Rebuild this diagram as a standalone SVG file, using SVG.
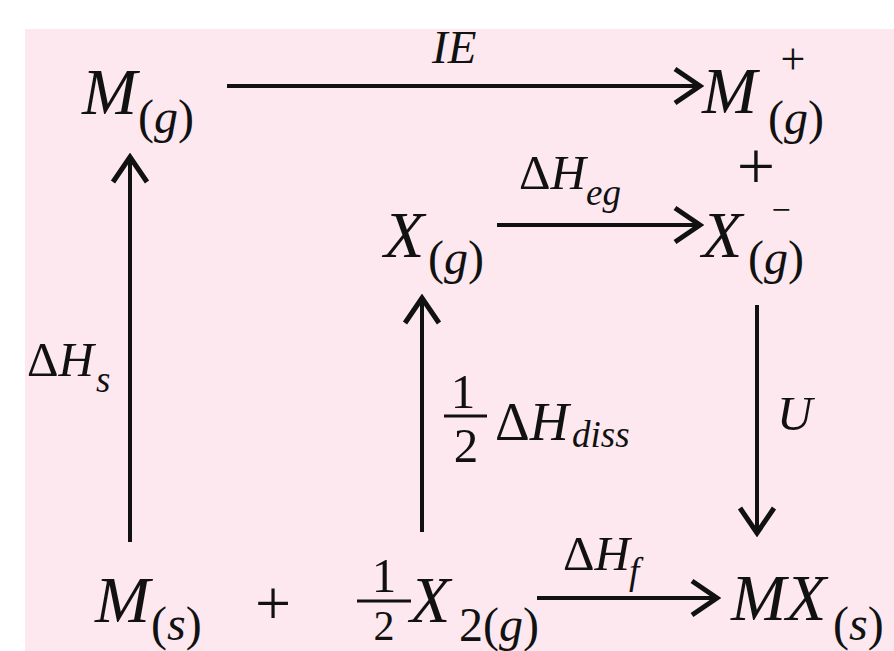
<svg xmlns="http://www.w3.org/2000/svg" width="894" height="651" viewBox="0 0 894 651">
<style>
text{font-family:"Liberation Serif","Times New Roman",serif;fill:#111}
.it{font-style:italic}
.up{font-style:normal}
.big{font-size:66px}
.sub{font-size:48px}
.lab{font-size:49px}
.ls{font-size:37px}
.ln{fill:none;stroke:#111;stroke-width:4}
.fr{stroke:#111;stroke-width:3}
</style>
<defs>
<marker id="ah" markerUnits="userSpaceOnUse" viewBox="-30 -20 34 40" refX="0" refY="0" markerWidth="34" markerHeight="40" orient="auto">
<path d="M-25,-17 L0,0 L-25,17" fill="none" stroke="#111" stroke-width="5" stroke-linejoin="miter"/>
</marker>
</defs>
<rect x="25" y="29" width="869" height="622" fill="#fce8ee"/>

<g id="connectors">
<line class="ln" x1="227" y1="86" x2="700" y2="86" marker-end="url(#ah)"/>
<line class="ln" x1="497" y1="225" x2="700" y2="225" marker-end="url(#ah)"/>
<line class="ln" x1="130" y1="542" x2="130" y2="157" marker-end="url(#ah)"/>
<line class="ln" x1="422" y1="532" x2="422" y2="298" marker-end="url(#ah)"/>
<line class="ln" x1="757" y1="305" x2="757" y2="533" marker-end="url(#ah)"/>
<line class="ln" x1="537" y1="598" x2="717" y2="598" marker-end="url(#ah)"/>
</g>

<g id="labels">
<text class="it" x="432" y="63" style="font-size:47px">IE</text>
<text class="lab" x="519" y="189"><tspan class="up">Δ</tspan><tspan class="it">H</tspan></text>
<text class="it ls" x="586" y="205">eg</text>
<text class="lab" x="27" y="376"><tspan class="up">Δ</tspan><tspan class="it">H</tspan></text>
<text class="it ls" x="96" y="392">s</text>
<text class="up lab" x="463" y="408" text-anchor="middle">1</text>
<line class="fr" x1="444" y1="416" x2="487" y2="416"/>
<text class="up lab" x="466" y="462" text-anchor="middle">2</text>
<text x="495" y="440" style="font-size:54px"><tspan class="up">Δ</tspan><tspan class="it">H</tspan></text>
<text class="it ls" x="572" y="447">diss</text>
<text class="it lab" x="777" y="430">U</text>
<text class="lab" x="563" y="570"><tspan class="up">Δ</tspan><tspan class="it">H</tspan></text>
<text class="it ls" x="629" y="584">f</text>
</g>

<g id="node-Mg">
<text class="it big" x="82" y="114">M</text>
<text class="sub" x="138" y="133"><tspan class="up">(</tspan><tspan class="it">g</tspan><tspan class="up">)</tspan></text>
</g>

<g id="node-Mplus">
<text class="it big" x="702" y="113">M</text>
<text class="up" x="793" y="74" text-anchor="middle" style="font-size:44px">+</text>
<text class="sub" x="768" y="134"><tspan class="up">(</tspan><tspan class="it">g</tspan><tspan class="up">)</tspan></text>
</g>

<g id="plus-mid">
<text class="up" x="756" y="189" text-anchor="middle" style="font-size:68px">+</text>
</g>

<g id="node-Xg">
<text class="it big" x="384" y="257">X</text>
<text class="sub" x="428" y="274"><tspan class="up">(</tspan><tspan class="it">g</tspan><tspan class="up">)</tspan></text>
</g>

<g id="node-Xminus">
<text class="it big" x="702" y="257">X</text>
<text class="up" x="781" y="221" text-anchor="middle" style="font-size:34px">−</text>
<text class="sub" x="748" y="274"><tspan class="up">(</tspan><tspan class="it">g</tspan><tspan class="up">)</tspan></text>
</g>

<g id="node-reactants">
<text class="it big" x="95" y="622">M</text>
<text class="sub" x="151" y="640"><tspan class="up">(</tspan><tspan class="it">s</tspan><tspan class="up">)</tspan></text>
<text class="up" x="273" y="625" text-anchor="middle" style="font-size:64px">+</text>
<text class="up lab" x="384" y="592" text-anchor="middle">1</text>
<line class="fr" x1="357" y1="601" x2="411" y2="601"/>
<text class="up" x="384" y="640" text-anchor="middle" style="font-size:42px">2</text>
<text class="it big" x="410" y="622">X</text>
<text class="sub" x="459" y="641"><tspan class="up">2(</tspan><tspan class="it">g</tspan><tspan class="up">)</tspan></text>
</g>

<g id="node-MXs">
<text class="it big" x="731" y="620">MX</text>
<text class="sub" x="833" y="640"><tspan class="up">(</tspan><tspan class="it">s</tspan><tspan class="up">)</tspan></text>
</g>
</svg>
